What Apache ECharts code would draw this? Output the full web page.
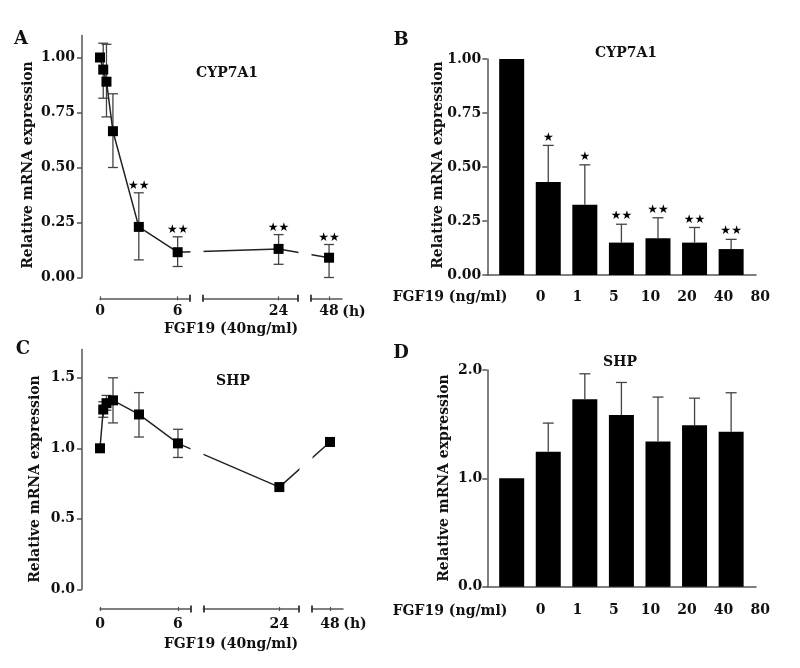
<!DOCTYPE html>
<html><head><meta charset="utf-8">
<script src="https://cdn.jsdelivr.net/npm/echarts@6/dist/echarts.min.js"></script>
<style>html,body{margin:0;padding:0;background:#fff}#c{width:800px;height:668px}</style>
</head><body><div id="c"></div>
<script>
// ---------------- data ----------------
const timeHours   = [0, 0.25, 0.5, 1, 3, 6, 24, 48];
const cypTimeMean = [1.00, 0.945, 0.89, 0.665, 0.23, 0.115, 0.13, 0.09];
const cypTimeHigh = [null, 1.065, 1.06, 0.835, 0.385, 0.185, 0.195, 0.15];
const cypTimeLow  = [null, 0.815, 0.73, 0.50, 0.08, 0.05, 0.06, 0.0];
const cypTimeSig  = ['', '', '', '', '★★', '★★', '★★', '★★'];
const shpTimeMean = [1.00, 1.275, 1.32, 1.34, 1.24, 1.035, 0.725, 1.045];
const shpTimeHigh = [null, 1.33, 1.375, 1.50, 1.395, 1.135, null, null];
const shpTimeLow  = [null, 1.22, 1.27, 1.18, 1.08, 0.935, null, null];
const doseLabels  = ['0', '1', '5', '10', '20', '40', '80'];
const cypDoseMean = [1.00, 0.43, 0.325, 0.15, 0.17, 0.15, 0.12];
const cypDoseHigh = [null, 0.60, 0.51, 0.235, 0.265, 0.22, 0.165];
const cypDoseSig  = ['', '★', '★', '★★', '★★', '★★', '★★'];
const shpDoseMean = [1.00, 1.245, 1.73, 1.585, 1.34, 1.49, 1.43];
const shpDoseHigh = [null, 1.51, 1.965, 1.885, 1.75, 1.74, 1.79];
const timeTicks     = [0, 6, 24, 48];
const yTicksCyp     = [0, 0.25, 0.5, 0.75, 1.0];
const yTicksShpTime = [0, 0.5, 1.0, 1.5];
const yTicksShpDose = [0, 1.0, 2.0];
const timeSegments  = [[0, 6.95], [18.15, 25.5], [46.6, 49]];

// ---------------- style / layout ----------------
const FONT = 'DejaVu Serif';
const AX = '#555';
const SEG_GAP = 1;
const DOSE_MIN = 1 / 3, DOSE_MAX = 7.68, LABEL_PAD = 58;
const grids = [], xAxes = [], yAxes = [], series = [], graphics = [];
const labelFont = {fontFamily: FONT, fontWeight: 'bold', fontSize: 14, color: '#111'};

function addGrid(r) { grids.push(Object.assign({containLabel: false}, r)); return grids.length - 1; }

function yAxisCfg(g, max, ticks, dec, offset, margin) {
  yAxes.push({
    gridIndex: g, type: 'value', min: 0, max: max, offset: offset,
    axisLine: {show: true, onZero: false, lineStyle: {color: AX, width: 1.5}},
    axisTick: {show: true, customValues: ticks, length: 5, lineStyle: {color: AX, width: 1.5}},
    axisLabel: Object.assign({customValues: ticks, formatter: v => Number(v).toFixed(dec), margin: margin}, labelFont),
    splitLine: {show: false}
  });
  return yAxes.length - 1;
}

function errRender(means, lows, highs, sigs, capHalf, sigGap) {
  return function (params, api) {
    const i = params.dataIndex;
    const x = api.value(0);
    const pm = api.coord([x, means[i]]);
    const style = {stroke: '#444', lineWidth: 1.3, fill: null};
    const ch = [];
    let topY = pm[1] - 5;
    if (highs[i] != null) {
      const ph = api.coord([x, highs[i]]);
      ch.push({type: 'line', shape: {x1: pm[0], y1: pm[1], x2: ph[0], y2: ph[1]}, style: style});
      ch.push({type: 'line', shape: {x1: ph[0] - capHalf, y1: ph[1], x2: ph[0] + capHalf, y2: ph[1]}, style: style});
      topY = ph[1];
    }
    if (lows && lows[i] != null) {
      const pl = api.coord([x, lows[i]]);
      ch.push({type: 'line', shape: {x1: pm[0], y1: pm[1], x2: pl[0], y2: pl[1]}, style: style});
      ch.push({type: 'line', shape: {x1: pl[0] - capHalf, y1: pl[1], x2: pl[0] + capHalf, y2: pl[1]}, style: style});
    }
    if (sigs && sigs[i]) {
      ch.push({type: 'text', style: {text: sigs[i], x: pm[0], y: topY - sigGap, align: 'center', verticalAlign: 'middle',
        fontSize: 12, fontFamily: 'DejaVu Sans', fill: '#000'}});
    }
    return {type: 'group', children: ch};
  };
}

function segmentRects(left, width) {
  const spans = timeSegments.map(s => s[1] - s[0]);
  const eff = spans.reduce((a, b) => a + b, 0) + SEG_GAP * (timeSegments.length - 1);
  const k = width / eff;
  let cur = left;
  return timeSegments.map((s, i) => {
    const r = {left: cur, width: spans[i] * k, min: s[0], max: s[1]};
    cur += spans[i] * k + SEG_GAP * k;
    return r;
  });
}

function timePanel(o) {
  const g = addGrid({left: o.left, top: o.top, width: o.width, height: o.height});
  const breaks = [];
  for (let i = 0; i < timeSegments.length - 1; i++) {
    breaks.push({start: timeSegments[i][1], end: timeSegments[i + 1][0], gap: SEG_GAP});
  }
  xAxes.push({
    gridIndex: g, type: 'value', min: timeSegments[0][0], max: timeSegments[timeSegments.length - 1][1],
    breaks: breaks,
    breakArea: {show: true, itemStyle: {color: '#fff', borderColor: '#fff', borderWidth: 0, opacity: 1},
      zigzagAmplitude: 0, zigzagZ: 100, expandOnClick: false},
    axisLine: {show: false, onZero: false}, axisTick: {show: false}, axisLabel: {show: false}, splitLine: {show: false}
  });
  const xi = xAxes.length - 1;
  const yi = yAxisCfg(g, o.yMax, o.yTicks, o.dec, o.yOffset, 7);
  series.push({type: 'line', xAxisIndex: xi, yAxisIndex: yi, data: timeHours.map((t, i) => [t, o.mean[i]]),
    symbol: 'rect', symbolSize: 10, itemStyle: {color: '#000'}, lineStyle: {color: '#222', width: 1.5}, z: 3});
  series.push({type: 'custom', xAxisIndex: xi, yAxisIndex: yi, data: timeHours.map((t, i) => [t, o.mean[i]]),
    renderItem: errRender(o.mean, o.low, o.high, o.sig, 5, 7), z: 2});

  // visible broken x axis drawn below the plot
  const segs = segmentRects(o.left, o.width);
  segs.forEach((s, si) => {
    const sg = addGrid({left: s.left, top: o.axisY - 10, width: s.width, height: 10});
    yAxes.push({gridIndex: sg, type: 'value', show: false});
    const ticks = timeTicks.filter(t => t >= s.min && t <= s.max);
    const caps = [];
    if (si > 0) caps.push(s.min);
    if (si < segs.length - 1) caps.push(s.max);
    xAxes.push({gridIndex: sg, type: 'value', min: s.min, max: s.max, position: 'bottom',
      axisLine: {show: true, onZero: false, lineStyle: {color: AX, width: 1.5}}, axisTick: {show: false},
      axisLabel: Object.assign({customValues: ticks, margin: o.labelMargin, formatter: v => String(v)}, labelFont),
      splitLine: {show: false}});
    xAxes.push({gridIndex: sg, type: 'value', min: s.min, max: s.max, position: 'bottom', offset: 2,
      axisLine: {show: false, onZero: false}, axisLabel: {show: false}, splitLine: {show: false},
      axisTick: {show: true, inside: true, length: 4, customValues: ticks, lineStyle: {color: AX, width: 1.2}}});
    if (caps.length) {
      xAxes.push({gridIndex: sg, type: 'value', min: s.min, max: s.max, position: 'bottom', offset: 3.5,
        axisLine: {show: false, onZero: false}, axisLabel: {show: false}, splitLine: {show: false},
        axisTick: {show: true, inside: true, length: 7, customValues: caps, lineStyle: {color: '#333', width: 1.8}}});
    }
  });
}

function dosePanel(o) {
  const g = addGrid({left: o.left, top: o.top, width: o.width, height: o.height});
  xAxes.push({gridIndex: g, type: 'value', min: DOSE_MIN, max: DOSE_MAX,
    axisLine: {show: true, onZero: false, lineStyle: {color: AX, width: 1.5}}, axisTick: {show: false},
    axisLabel: Object.assign({customValues: doseLabels.map((d, i) => i + 1),
      formatter: v => doseLabels[Math.round(v) - 1], margin: o.labelMargin, padding: [0, 0, 0, LABEL_PAD]}, labelFont),
    splitLine: {show: false}});
  const xi = xAxes.length - 1;
  const yi = yAxisCfg(g, o.yMax, o.yTicks, o.dec, 0, o.yMargin);
  series.push({type: 'bar', xAxisIndex: xi, yAxisIndex: yi, data: o.mean.map((v, i) => [i + 1, v]),
    barWidth: 25, itemStyle: {color: '#000'}, z: 2});
  series.push({type: 'custom', xAxisIndex: xi, yAxisIndex: yi, data: o.mean.map((v, i) => [i + 1, v]),
    renderItem: errRender(o.mean, null, o.high, o.sig, 5.5, 8), z: 3});
}

timePanel({left: 100, top: 35.5, width: 242, height: 242, yMax: 1.1, yTicks: yTicksCyp, dec: 2, yOffset: 18,
  mean: cypTimeMean, low: cypTimeLow, high: cypTimeHigh, sig: cypTimeSig, axisY: 298.3, labelMargin: 6});
timePanel({left: 100, top: 349.6, width: 243, height: 239.7, yMax: 1.7, yTicks: yTicksShpTime, dec: 1, yOffset: 18,
  mean: shpTimeMean, low: shpTimeLow, high: shpTimeHigh, sig: null, axisY: 609, labelMargin: 8});
dosePanel({left: 487.3, top: 59, width: 268.7, height: 216, yMax: 1.0, yTicks: yTicksCyp, dec: 2, yMargin: 6,
  mean: cypDoseMean, high: cypDoseHigh, sig: cypDoseSig, labelMargin: 15});
dosePanel({left: 487.3, top: 370, width: 268.7, height: 216.7, yMax: 2.0, yTicks: yTicksShpDose, dec: 1, yMargin: 5,
  mean: shpDoseMean, high: shpDoseHigh, sig: null, labelMargin: 17});

// ---------------- texts ----------------
function txt(s, x, y, size, rot) {
  graphics.push({type: 'text', x: x, y: y, rotation: rot || 0, silent: true, z: 500,
    style: {text: s, x: 0, y: 0, align: 'center', verticalAlign: 'middle', fill: '#111',
      font: 'bold ' + size + 'px "' + FONT + '"'}});
}
txt('A', 21, 39, 18); txt('B', 401, 40, 18); txt('C', 23, 349, 18); txt('D', 401, 353, 18);
txt('CYP7A1', 227, 73, 14); txt('CYP7A1', 626, 53, 14); txt('SHP', 233, 381, 14); txt('SHP', 620, 362, 14);
txt('Relative mRNA expression', 28, 165, 14, Math.PI / 2);
txt('Relative mRNA expression', 438, 165, 14, Math.PI / 2);
txt('Relative mRNA expression', 35, 479, 14, Math.PI / 2);
txt('Relative mRNA expression', 444, 478, 14, Math.PI / 2);
txt('(h)', 354, 312, 14); txt('(h)', 355, 624, 14);
txt('FGF19 (40ng/ml)', 231, 329, 14); txt('FGF19 (40ng/ml)', 231, 644, 14);
txt('FGF19 (ng/ml)', 450, 297, 14); txt('FGF19 (ng/ml)', 450, 611, 14);

const chart = echarts.init(document.getElementById('c'), null, {renderer: 'canvas'});
chart.setOption({animation: false, backgroundColor: '#fff', grid: grids, xAxis: xAxes, yAxis: yAxes,
  series: series, graphic: graphics});
</script></body></html>
